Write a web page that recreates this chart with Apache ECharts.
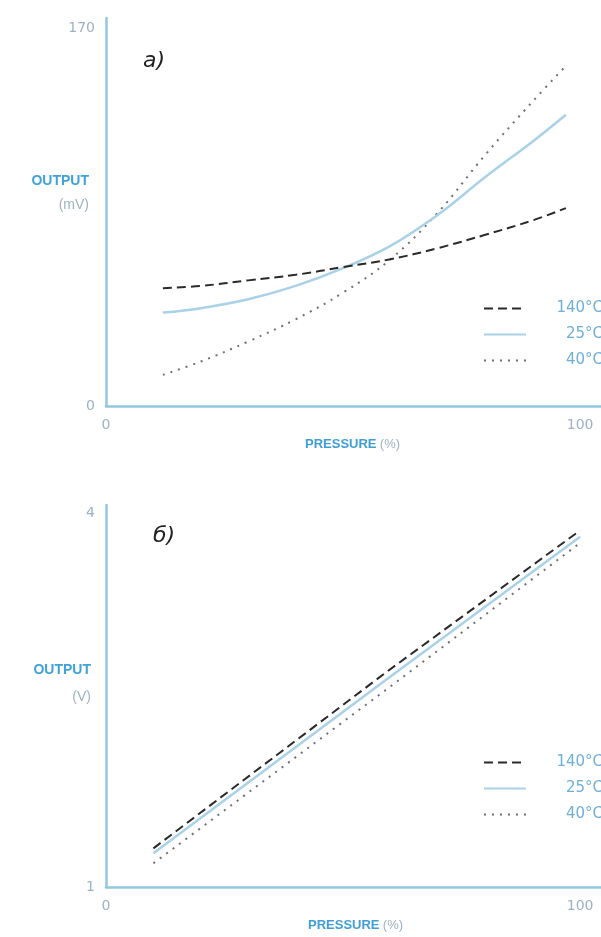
<!DOCTYPE html>
<html>
<head>
<meta charset="utf-8">
<script src="https://cdn.jsdelivr.net/npm/echarts@6/dist/echarts.min.js"></script>
<style>html,body{margin:0;padding:0;background:#fff}#c{width:601px;height:937px}</style>
</head>
<body>
<div id="c"></div>
<script>
// ---- data ----
const seriesNames = ['140°C', '25°C', '40°C'];
const xTickValues = [0, 100];
const yTicksA = [0, 170];
const yTicksB = [1, 4];

// chart а) output (mV) vs pressure (%)
const pressureA = [12, 20, 30, 40, 50, 60, 70, 80, 90, 97];
const hot140A  = [53, 54, 56.5, 59, 62.5, 66, 71, 77, 83.5, 89];
const room25A  = [42, 44, 48, 54, 62, 72, 86, 103, 119, 131];
const cold40A  = [14, 20, 29, 39, 51, 66, 87, 113, 137, 153];

// chart б) output (V) vs pressure (%)
const pressureB = [10, 59, 100];
const hot140B  = [1.31, 2.72, 3.86];
const room25B  = [1.27, 2.66, 3.81];
const cold40B  = [1.19, 2.58, 3.76];

const pairs = (xs, ys) => xs.map((x, i) => [x, ys[i]]);

const axisBlue = '#93c6e0';
const labelCol = '#9cb2c4';
const styles = [
  { color: '#2a2a2a', width: 2, type: [9, 5] },
  { color: '#a9d1e8', width: 2.5, type: 'solid' },
  { color: '#707070', width: 2, type: [2, 6] }
];

function xAxisCfg(gi) {
  return {
    type: 'value', gridIndex: gi, min: 0, max: 104.4,
    axisLine: { show: true, lineStyle: { color: axisBlue, width: 2.5 } },
    axisTick: { show: false }, splitLine: { show: false },
    axisLabel: { customValues: xTickValues, color: labelCol, fontSize: 14, margin: 12, fontFamily: 'DejaVu Sans' }
  };
}
function yAxisCfg(gi, min, max, ticks) {
  return {
    type: 'value', gridIndex: gi, min: min, max: max,
    axisLine: { show: true, lineStyle: { color: axisBlue, width: 2.5 } },
    axisTick: { show: false }, splitLine: { show: false },
    axisLabel: { customValues: ticks, color: labelCol, fontSize: 14, margin: 11, fontFamily: 'DejaVu Sans' }
  };
}
function mkSeries(gi, xs, ysList, smooth) {
  return ysList.map((ys, i) => ({
    name: seriesNames[i], type: 'line', xAxisIndex: gi, yAxisIndex: gi,
    data: pairs(xs, ys), smooth: smooth, showSymbol: false, symbol: 'none',
    lineStyle: styles[i], itemStyle: { color: styles[i].color },
    z: 3 - i
  }));
}
function legendCfg(top) {
  return {
    orient: 'vertical', left: 478, top: top, itemWidth: 42, itemHeight: 14, itemGap: 11,
    data: seriesNames,
    itemStyle: { opacity: 0 },
    formatter: '{a|{name}}',
    textStyle: { rich: { a: { color: '#6fb0d8', fontSize: 15, fontFamily: 'DejaVu Sans', width: 72, align: 'right' } } }
  };
}

const chart = echarts.init(document.getElementById('c'), null, { renderer: 'canvas' });
chart.setOption({
  animation: false,
  backgroundColor: '#ffffff',
  grid: [
    { left: 106, right: 0, top: 18, height: 388 },
    { left: 106, right: 0, top: 505, height: 382 }
  ],
  xAxis: [xAxisCfg(0), xAxisCfg(1)],
  yAxis: [yAxisCfg(0, 0, 174.5, yTicksA), yAxisCfg(1, 1, 4.064, yTicksB)],
  legend: [legendCfg(296), legendCfg(750)],
  series: [
    ...mkSeries(0, pressureA, [hot140A, room25A, cold40A], 0.4),
    ...mkSeries(1, pressureB, [hot140B, room25B, cold40B], false)
  ],
  graphic: [
    { type: 'text', left: 143, top: 50, style: { text: 'а)', font: 'italic 22px "DejaVu Sans"', fill: '#222' } },
    { type: 'text', left: 153, top: 525, style: { text: 'б)', font: 'italic 22px "DejaVu Sans"', fill: '#222' } },
    { type: 'text', x: 89, y: 181, style: { text: 'OUTPUT', font: 'bold 14px "Liberation Sans"', fill: '#3fa2d8', align: 'right', verticalAlign: 'middle' } },
    { type: 'text', x: 89, y: 205, style: { text: '(mV)', font: '14px "Liberation Sans"', fill: labelCol, align: 'right', verticalAlign: 'middle' } },
    { type: 'text', x: 91, y: 670, style: { text: 'OUTPUT', font: 'bold 14px "Liberation Sans"', fill: '#3fa2d8', align: 'right', verticalAlign: 'middle' } },
    { type: 'text', x: 91, y: 697, style: { text: '(V)', font: '14px "Liberation Sans"', fill: labelCol, align: 'right', verticalAlign: 'middle' } },
    { type: 'text', x: 305, y: 444, style: { text: '{b|PRESSURE} {n|(%)}', verticalAlign: 'middle',
        rich: { b: { font: 'bold 13px "Liberation Sans"', fill: '#3f9fd4' }, n: { font: '13px "Liberation Sans"', fill: labelCol } } } },
    { type: 'text', x: 308, y: 925, style: { text: '{b|PRESSURE} {n|(%)}', verticalAlign: 'middle',
        rich: { b: { font: 'bold 13px "Liberation Sans"', fill: '#3f9fd4' }, n: { font: '13px "Liberation Sans"', fill: labelCol } } } }
  ]
});
</script>
</body>
</html>
